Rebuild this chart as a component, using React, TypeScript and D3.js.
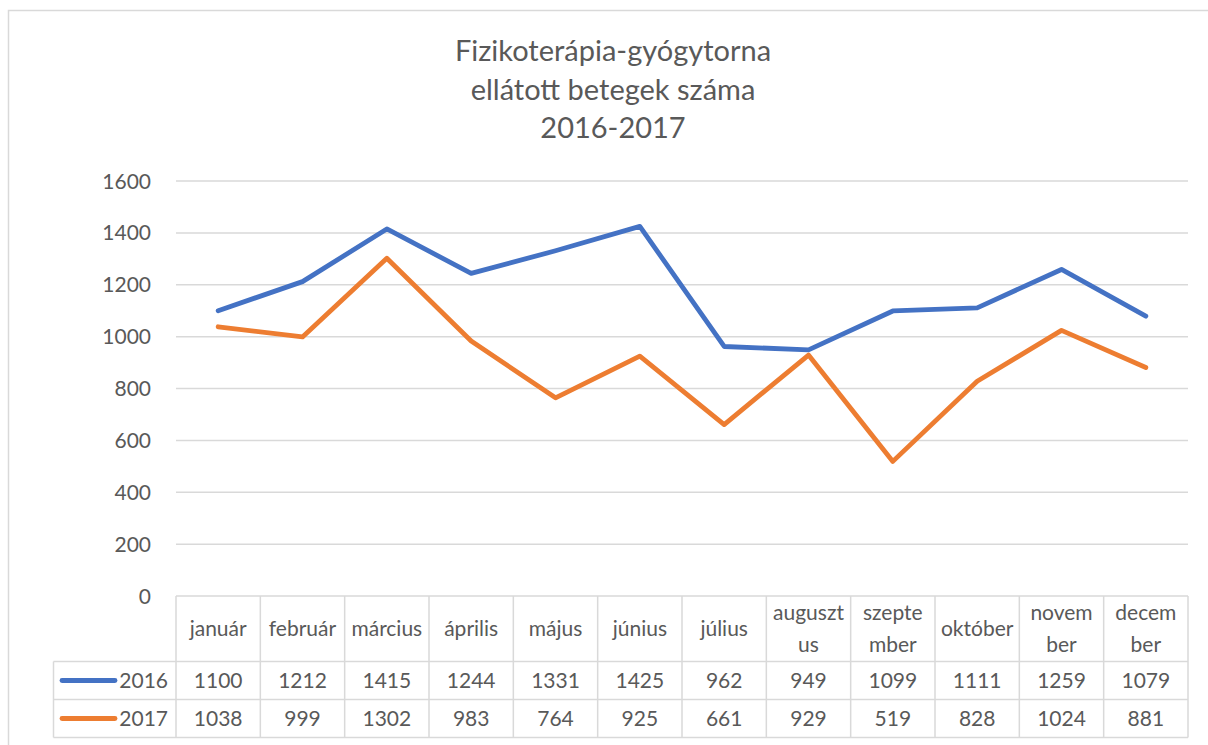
import React from "react";
import * as d3 from "d3";

const months = ["január", "február", "március", "április", "május", "június", "július", "augusztus", "szeptember", "október", "november", "december"];
const monthLines = [["január"], ["február"], ["március"], ["április"], ["május"], ["június"], ["július"], ["auguszt", "us"], ["szepte", "mber"], ["október"], ["novem", "ber"], ["decem", "ber"]];
const values2016 = [1100, 1212, 1415, 1244, 1331, 1425, 962, 949, 1099, 1111, 1259, 1079];
const values2017 = [1038, 999, 1302, 983, 764, 925, 661, 929, 519, 828, 1024, 881];
const yTicks = [0, 200, 400, 600, 800, 1000, 1200, 1400, 1600];
const titleLines = ["Fizikoterápia-gyógytorna", "ellátott betegek száma", "2016-2017"];

const series = [
  { name: "2016", values: values2016, color: "#4472C4" },
  { name: "2017", values: values2017, color: "#ED7D31" },
];

export default function App() {
  const W = 1208, H = 745;
  const left = 176, right = 1188, top = 181, bottom = 596;
  const x = d3.scaleBand<string>().domain(months).range([left, right]);
  const y = d3.scaleLinear().domain([0, 1600]).range([bottom, top]);
  const line = d3.line<number>().x((_, i) => x(months[i])! + x.bandwidth() / 2).y((d) => y(d));
  const headerBottom = 661.5, row1Bottom = 699.5, row2Bottom = 737.5;
  const legLeft = 53.5;
  const font = "Lato, 'Open Sans', sans-serif";
  const txt = "#595959";
  const grid = "#D9D9D9";
  const fs = 21;
  return (
    <svg width={W} height={H} style={{ position: "absolute", left: 0, top: 0 }} fontFamily={font}>
      <rect x={0} y={0} width={W} height={H} fill="#fff" />
      <rect x={8.5} y={10.5} width={W + 10} height={H + 10} fill="none" stroke="#D9D9D9" strokeWidth={1.5} />
      {titleLines.map((t, i) => (
        <text key={t} x={613} y={61 + i * 38.5} textAnchor="middle" fontSize={29} fill={txt}>{t}</text>
      ))}
      {yTicks.map((t) => (
        <g key={t}>
          {t > 0 && <line x1={left} x2={right} y1={y(t)} y2={y(t)} stroke={grid} strokeWidth={1.5} />}
          <text x={151} y={y(t)} dy="0.36em" textAnchor="end" fontSize={fs} fill={txt}>{t}</text>
        </g>
      ))}
      <g stroke={grid} strokeWidth={1.5} fill="none">
        <line x1={left} x2={right} y1={bottom} y2={bottom} />
        <line x1={legLeft} x2={right} y1={headerBottom} y2={headerBottom} />
        <line x1={legLeft} x2={right} y1={row1Bottom} y2={row1Bottom} />
        <line x1={legLeft} x2={right} y1={row2Bottom} y2={row2Bottom} />
        <line x1={legLeft} x2={legLeft} y1={headerBottom} y2={row2Bottom} />
        {months.map((m) => (
          <line key={m} x1={x(m)!} x2={x(m)!} y1={bottom} y2={row2Bottom} />
        ))}
        <line x1={right} x2={right} y1={bottom} y2={row2Bottom} />
      </g>
      {months.map((m, i) => {
        const cx = x(m)! + x.bandwidth() / 2;
        const ls = monthLines[i];
        const cy = (bottom + headerBottom) / 2;
        return (
          <text key={m} textAnchor="middle" fontSize={fs} fill={txt}>
            {ls.map((l, j) => (
              <tspan key={j} x={cx} y={cy + (j - (ls.length - 1) / 2) * 32} dy="0.36em">{l}</tspan>
            ))}
          </text>
        );
      })}
      {series.map((s, si) => {
        const rowTop = si === 0 ? headerBottom : row1Bottom;
        const rowBot = si === 0 ? row1Bottom : row2Bottom;
        const cy = (rowTop + rowBot) / 2;
        return (
          <g key={s.name}>
            <path d={line(s.values)!} fill="none" stroke={s.color} strokeWidth={4.8} strokeLinejoin="round" strokeLinecap="round" />
            <line x1={62} x2={115} y1={cy} y2={cy} stroke={s.color} strokeWidth={4.8} strokeLinecap="round" />
            <text x={168} y={cy} dy="0.36em" textAnchor="end" fontSize={fs} fill={txt}>{s.name}</text>
            {s.values.map((v, i) => (
              <text key={i} x={x(months[i])! + x.bandwidth() / 2} y={cy} dy="0.36em" textAnchor="middle" fontSize={fs} fill={txt}>{v}</text>
            ))}
          </g>
        );
      })}
    </svg>
  );
}
